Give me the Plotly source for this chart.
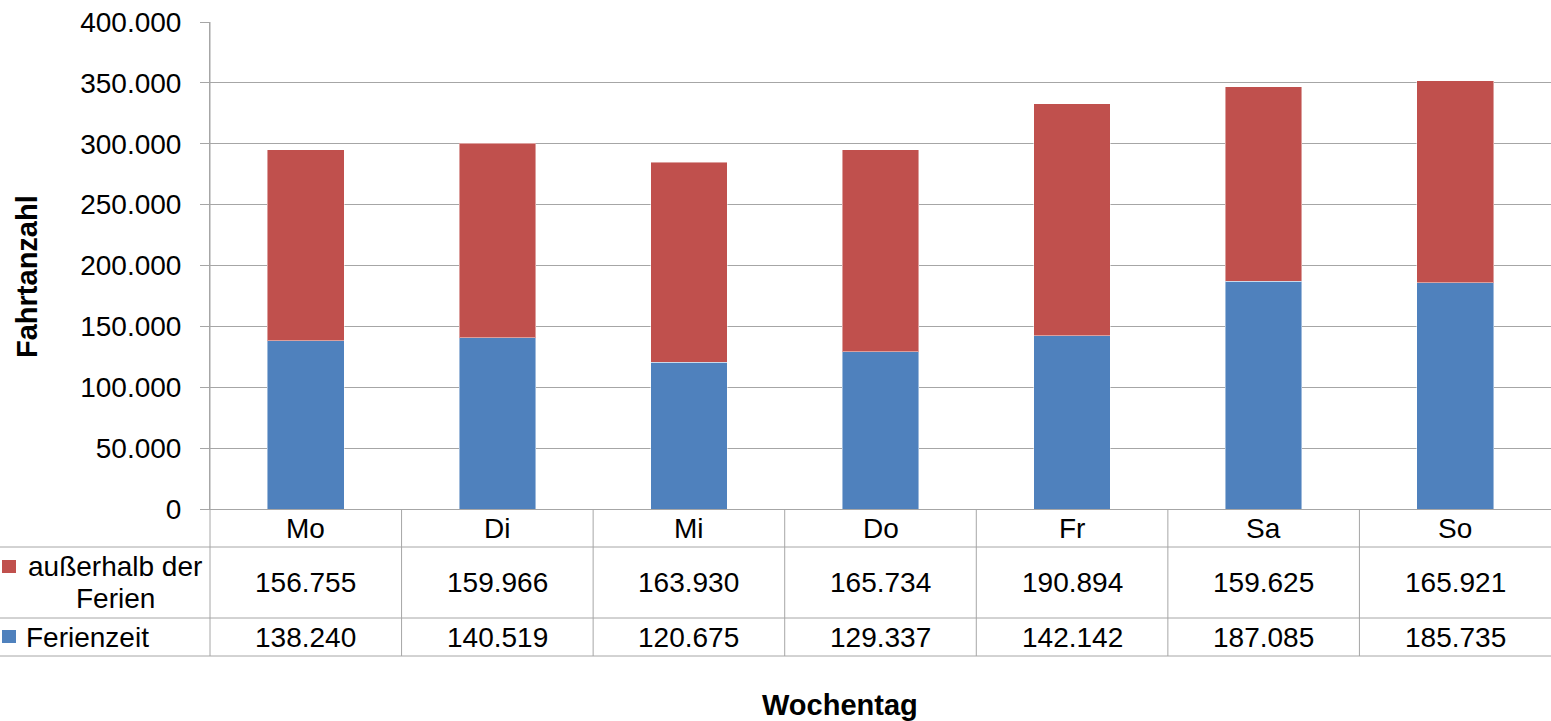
import plotly.graph_objects as go

# Weekly trip counts, split by holiday period
tage = ["Mo", "Di", "Mi", "Do", "Fr", "Sa", "So"]
ausserhalb_ferien = [156755, 159966, 163930, 165734, 190894, 159625, 165921]
ferienzeit = [138240, 140519, 120675, 129337, 142142, 187085, 185735]
y_ticks = [0, 50000, 100000, 150000, 200000, 250000, 300000, 350000, 400000]

W, H = 1551, 721
L, R, T, B = 210, 0, 22, 212
PW, PH = W - L - R, H - T - B
BLUE = "#4F81BD"
RED = "#C0504D"
LINE = "#A6A6A6"
FONT = "Liberation Sans, Arial, sans-serif"
FS = 28


def px(x):
    return (x - L) / PW


def py(y):
    return (H - B - y) / PH


def de(v):
    return f"{v:,}".replace(",", ".")


fig = go.Figure()
fig.add_trace(go.Bar(
    x=tage, y=ferienzeit, name="Ferienzeit",
    marker=dict(color=BLUE, line=dict(color="rgba(255,255,255,0.45)", width=1)),
))
fig.add_trace(go.Bar(
    x=tage, y=ausserhalb_ferien, name="außerhalb der Ferien",
    marker=dict(color=RED, line=dict(color="rgba(255,255,255,0.45)", width=1)),
))

shapes = []
# y axis line continued down through the data table
shapes.append(dict(type="line", xref="paper", yref="paper", x0=0, x1=0,
                   y0=py(656), y1=1, line=dict(color=LINE, width=1)))
# horizontal table rules
for yy in (547, 618, 656):
    shapes.append(dict(type="line", xref="paper", yref="paper", x0=px(0), x1=1,
                       y0=py(yy), y1=py(yy), line=dict(color=LINE, width=1)))
# vertical table rules between days
n = len(tage)
for i in range(1, n):
    shapes.append(dict(type="line", xref="x", yref="paper", x0=i - 0.5, x1=i - 0.5,
                       y0=py(656), y1=0, line=dict(color=LINE, width=1)))
# legend keys
shapes.append(dict(type="rect", xref="paper", yref="paper", x0=px(2), x1=px(16),
                   y0=py(573), y1=py(560), fillcolor=RED, line=dict(width=0)))
shapes.append(dict(type="rect", xref="paper", yref="paper", x0=px(2), x1=px(16),
                   y0=py(643), y1=py(630), fillcolor=BLUE, line=dict(width=0)))

ann = []
txt = dict(size=FS, color="black", family=FONT)
for i, t in enumerate(tage):
    ann.append(dict(x=i, y=py(528), xref="x", yref="paper", text=t,
                    showarrow=False, font=txt, xanchor="center", yanchor="middle"))
    ann.append(dict(x=i, y=py(582), xref="x", yref="paper", text=de(ausserhalb_ferien[i]),
                    showarrow=False, font=txt, xanchor="center", yanchor="middle"))
    ann.append(dict(x=i, y=py(637), xref="x", yref="paper", text=de(ferienzeit[i]),
                    showarrow=False, font=txt, xanchor="center", yanchor="middle"))

ann.append(dict(x=px(115), y=py(566), xref="paper", yref="paper", text="außerhalb der",
                showarrow=False, font=txt, xanchor="center", yanchor="middle"))
ann.append(dict(x=px(115), y=py(598), xref="paper", yref="paper", text="Ferien",
                showarrow=False, font=txt, xanchor="center", yanchor="middle"))
ann.append(dict(x=px(24), y=py(637), xref="paper", yref="paper", text="Ferienzeit",
                showarrow=False, font=txt, xanchor="left", yanchor="middle"))

# axis titles
ttl = dict(size=29, color="black", family=FONT)
ann.append(dict(x=px(27), y=py(277), xref="paper", yref="paper", text="<b>Fahrtanzahl</b>",
                textangle=-90, showarrow=False, font=ttl, xanchor="center", yanchor="middle"))
ann.append(dict(x=px(840), y=py(705), xref="paper", yref="paper", text="<b>Wochentag</b>",
                showarrow=False, font=ttl, xanchor="center", yanchor="middle"))

fig.update_layout(
    width=W, height=H,
    margin=dict(l=L, r=R, t=T, b=B, pad=0),
    barmode="stack", bargap=0.6,
    plot_bgcolor="white", paper_bgcolor="white",
    separators=",.",
    showlegend=False,
    font=dict(family=FONT, size=FS, color="black"),
    shapes=shapes, annotations=ann,
    xaxis=dict(showticklabels=False, showgrid=False, zeroline=False,
               showline=True, linecolor=LINE, linewidth=1, ticks=""),
    yaxis=dict(range=[0, 400000], tickvals=y_ticks, tickformat=",d",
               showgrid=True, gridcolor=LINE, gridwidth=1,
               zeroline=False, showline=True, linecolor=LINE, linewidth=1,
               ticks="outside", ticklen=9, tickcolor=LINE, tickwidth=1,
               ticklabelstandoff=13,
               tickfont=dict(size=FS, family=FONT, color="black")),
)

fig.write_html("out.html")
